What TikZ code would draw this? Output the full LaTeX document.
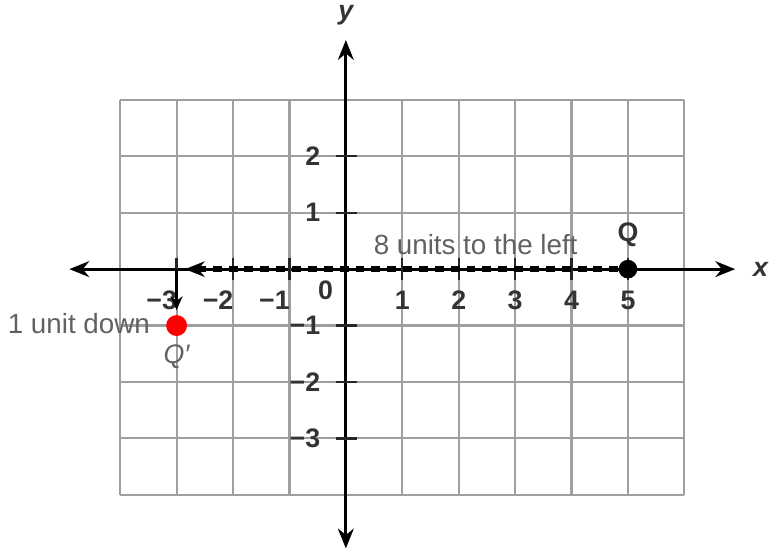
\documentclass[tikz,border=0pt]{standalone}
\usepackage{fontspec}
\setmainfont{Liberation Sans}
\usetikzlibrary{arrows.meta}
\begin{document}
\begin{tikzpicture}[font=\fontsize{13}{15}\selectfont,
		axis/.style={line width=1.4pt, {Stealth[length=10pt,width=8pt]}-{Stealth[length=10pt,width=8pt]}},
		tickmark/.style={line width=1.2pt, black!85},
		num/.style={font=\fontsize{13.5}{15}\selectfont\bfseries, text=black!80},
		note/.style={text=black!62, font=\fontsize{14}{16}\selectfont},
		pt/.style={circle, inner sep=0pt, minimum size=0.33cm}]
		\useasboundingbox (-6.13,-4.98) rectangle (7.50,4.77);
		% сетка
		\draw[gray!75, line width=1.1pt] (-4,-4) grid (6,3);
		% оси
		\draw[axis] (-4.9,0) -- (6.9,0);
		\draw[axis] (0,-4.95) -- (0,4.06);
		\node[num] at (7.35,0) {\itshape x};
		\node[num] at (0,4.5) {\itshape y};
		% деления и подписи
		\foreach \i in {-3,-2,-1,1,2,3,4,5}{ \draw[tickmark] (\i,-0.2) -- (\i,0.2); }
		\foreach \j in {-3,-2,-1,1,2}{ \draw[tickmark] (-0.18,\j) -- (0.2,\j); }
		\foreach \i in {1,...,5}{ \node[num] at (\i,-0.55) {\i}; }
		\foreach \i in {-3,-2,-1}{ \node[num, anchor=east] at (\i+0.13,-0.55) {−\the\numexpr-\i\relax}; }
		\foreach \j in {1,2}{ \node[num, anchor=east] at (-0.33,\j) {\j}; }
		\foreach \j in {-3,-2,-1}{ \node[num, anchor=east] at (-0.33,\j) {−\the\numexpr-\j\relax}; }
		\node[num] at (-0.36,-0.37) {0};
		% точки Q и Q'
		\node[pt, fill=black] (Q) at (5,0) {};
		\node[pt, fill=red, minimum size=0.37cm] (Qp) at (-3,-1) {};
		\coordinate (Qx) at (-3,0);
		\node[num, above=0.28cm] at (Q) {Q};
		\node[note, font=\fontsize{13.5}{15}\selectfont\itshape] at (-3,-1.55) {Q′};
		% перенос
		\draw[line width=3.2pt, dash pattern=on 4.5pt off 3.5pt, -{Stealth[length=10pt,width=8pt,line width=0pt]}, shorten >=0.15cm] (Q) -- (Qx);
		\draw[line width=1.4pt, -{Stealth[length=7pt,width=6pt]}, shorten >=0.08cm] (Qx) -- (Qp);
		\node[note] at (2.3,0.44) {8 units to the left};
		\node[note, anchor=east] at (-3.35,-0.96) {1 unit down};
	\end{tikzpicture}
\end{document}
